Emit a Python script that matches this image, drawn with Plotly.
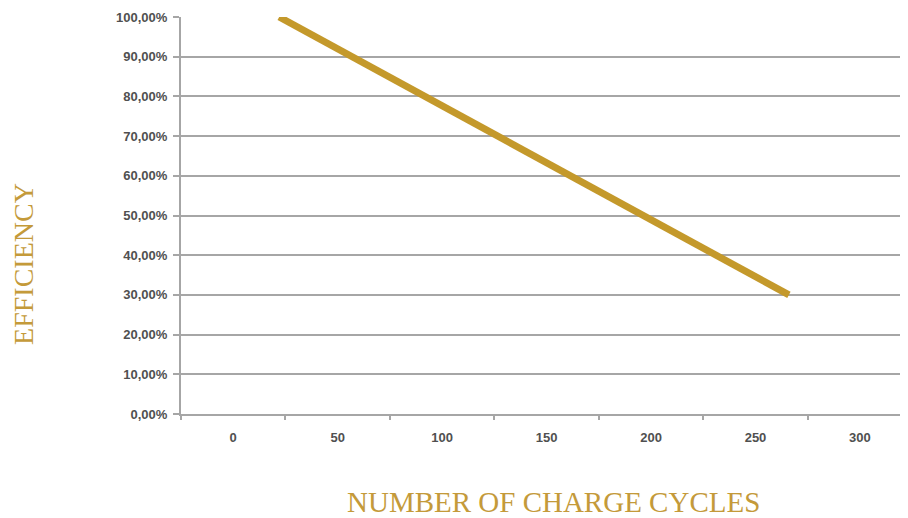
import plotly.graph_objects as go

# Data
cycles = [22, 266]
efficiency = [1.00, 0.30]
x_tick_labels = [0, 50, 100, 150, 200, 250, 300]
y_tick_values = [0, 0.1, 0.2, 0.3, 0.4, 0.5, 0.6, 0.7, 0.8, 0.9, 1.0]

gold = "#C4992B"
title_gold = "#C49A3A"
grid = "#A6A6A6"
tickfont = dict(family="Liberation Sans", size=13, color="#505050", weight="bold")

fig = go.Figure()
fig.add_trace(go.Scatter(
    x=cycles, y=efficiency, mode="lines",
    line=dict(color=gold, width=7),
    cliponaxis=False, showlegend=False, hoverinfo="skip",
))

# page body has an 8px margin, so the figure is 8px smaller and shifted
fig.update_layout(
    width=900, height=510,
    margin=dict(l=173, r=0, t=9, b=104),
    paper_bgcolor="white", plot_bgcolor="white",
    xaxis=dict(
        range=[-25, 323], tickvals=x_tick_labels,
        ticktext=[str(v) for v in x_tick_labels],
        ticks="", showgrid=False, zeroline=False,
        showline=True, linecolor=grid, linewidth=2,
        tickfont=tickfont, ticklabelstandoff=10,
        minor=dict(ticks="outside", ticklen=4, tickwidth=2, tickcolor=grid,
                   tick0=-25, dtick=50, showgrid=False),
    ),
    yaxis=dict(
        range=[0, 1], tickvals=y_tick_values, tickformat=".2%",
        ticks="outside", ticklen=6, tickwidth=2, tickcolor=grid,
        showgrid=True, gridcolor=grid, gridwidth=2,
        zeroline=False, showline=True, linecolor=grid, linewidth=2,
        tickfont=tickfont, ticklabelstandoff=3,
    ),
    separators=", ",
    annotations=[
        dict(text="NUMBER OF CHARGE CYCLES", xref="paper", yref="paper",
             x=0.512, y=0, yshift=-88, xanchor="center", yanchor="middle",
             showarrow=False,
             font=dict(family="Liberation Serif", size=29, color=title_gold)),
        dict(text="EFFICIENCY", xref="paper", yref="paper",
             x=0, xshift=-157, y=0.378, xanchor="center", yanchor="middle",
             textangle=-90, showarrow=False,
             font=dict(family="Liberation Serif", size=28, color=title_gold)),
    ],
)

fig.write_html("out.html")
